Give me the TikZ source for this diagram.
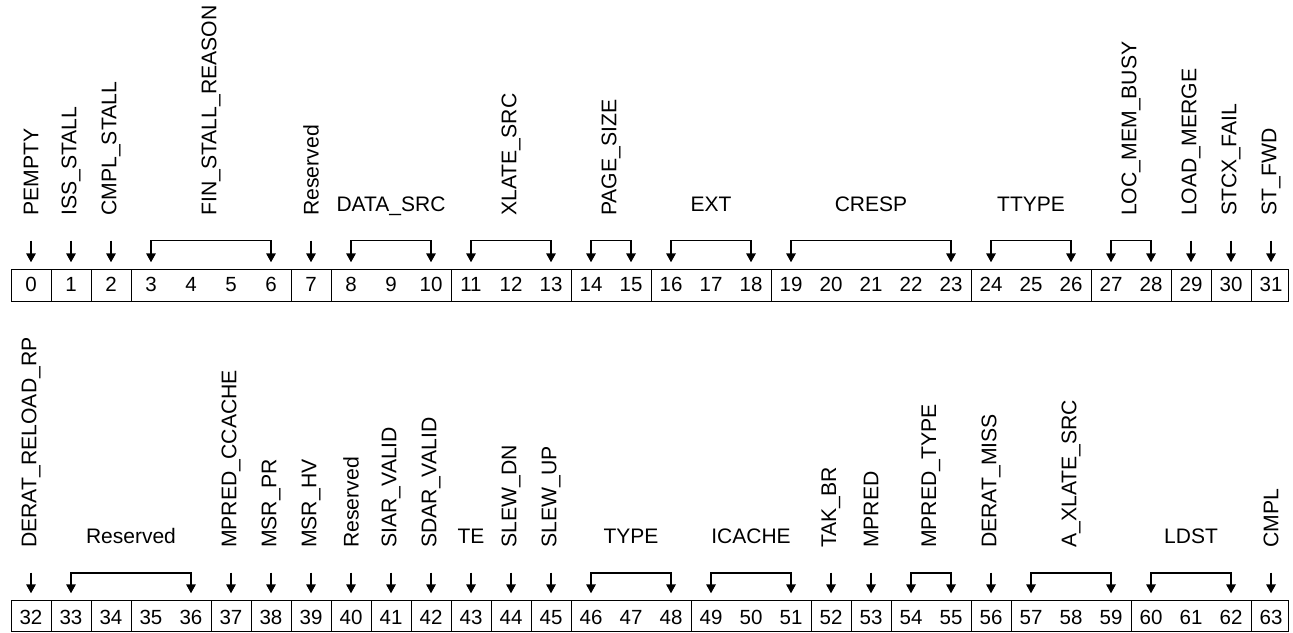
\documentclass[tikz,border=0pt]{standalone}
\usepackage{fontspec}
\setmainfont{Liberation Sans}
\usetikzlibrary{arrows.meta}
\begin{document}
\begin{tikzpicture}[x=1pt,y=1pt,
  num/.style={font=\fontsize{20.5}{24}\selectfont, anchor=base, inner sep=0pt},
  rlab/.style={font=\fontsize{21.2}{24}\selectfont, rotate=90, anchor=west, inner sep=0pt},
  hlab/.style={font=\fontsize{21}{24}\selectfont, anchor=base, inner sep=0pt},
  arr/.style={line width=1.7pt, -{Triangle[width=9.5pt,length=9pt]}},
  brk/.style={line width=1.7pt, {Triangle[width=9.5pt,length=9pt]}-{Triangle[width=9.5pt,length=9pt]}},
  cell/.style={line width=0.9pt}]
\useasboundingbox (0,0) rectangle (1293,-632);
% ---------- top row ----------
\foreach \i in {0,...,31} {
  \pgfmathsetmacro\xx{31+40*\i}
  \node[num] (n\i) at (\xx,-291.7) {\i};
  \coordinate (a\i) at (\xx,-240.5);
  \coordinate (b\i) at (\xx,-262.3);
}
\draw[cell] (11,-269.3) rectangle (1288.5,-301);
\foreach \k in {1,2,3,7,8,11,14,16,19,24,27,29,30,31}
  \draw[cell] ({11+40*\k},-269.3) -- ({11+40*\k},-301);
\foreach \i in {0,1,2,7,29,30,31} \draw[arr] (a\i) -- (b\i);
\foreach \p/\q in {3/6,8/10,11/13,14/15,16/18,19/23,24/26,27/28}
  \draw[brk] (b\p) -- (a\p) -- (a\q) -- (b\q);
\node[rlab] (l0) at (31,-216) {PEMPTY};
\node[rlab] (l1) at (71,-216) {ISS\_STALL};
\node[rlab] (l2) at (111,-216) {CMPL\_STALL};
\node[rlab] (l3) at (211,-216) {FIN\_STALL\_REASON};
\node[rlab] (l7) at (311,-216) {Reserved};
\node[hlab] (l8) at (391,-211) {DATA\_SRC};
\node[rlab] (l11) at (511,-216) {XLATE\_SRC};
\node[rlab] (l14) at (611,-216) {PAGE\_SIZE};
\node[hlab] (l16) at (711,-211) {EXT};
\node[hlab] (l19) at (871,-211) {CRESP};
\node[hlab] (l24) at (1031,-211) {TTYPE};
\node[rlab] (l27) at (1131,-216) {LOC\_MEM\_BUSY};
\node[rlab] (l29) at (1191,-216) {LOAD\_MERGE};
\node[rlab] (l30) at (1231,-216) {STCX\_FAIL};
\node[rlab] (l31) at (1271,-216) {ST\_FWD};
% ---------- bottom row ----------
\foreach \i in {32,...,63} {
  \pgfmathsetmacro\xx{31+40*(\i-32)}
  \node[num] (n\i) at (\xx,-624) {\i};
  \coordinate (a\i) at (\xx,-572.7);
  \coordinate (b\i) at (\xx,-593.3);
}
\draw[cell] (11,-600.7) rectangle (1288.5,-631.5);
\foreach \k in {1,2,3,5,6,7,8,9,10,11,12,13,14,17,20,21,22,24,25,28,31}
  \draw[cell] ({11+40*\k},-600.7) -- ({11+40*\k},-631.5);
\foreach \i in {32,37,38,39,40,41,42,43,44,45,52,53,56,63} \draw[arr] (a\i) -- (b\i);
\foreach \p/\q in {33/36,46/48,49/51,54/55,57/59,60/62}
  \draw[brk] (b\p) -- (a\p) -- (a\q) -- (b\q);
\node[rlab] (l32) at (31,-548) {DERAT\_RELOAD\_RP};
\node[hlab] (l33) at (131,-543) {Reserved};
\node[rlab] (l37) at (231,-548) {MPRED\_CCACHE};
\node[rlab] (l38) at (271,-548) {MSR\_PR};
\node[rlab] (l39) at (311,-548) {MSR\_HV};
\node[rlab] (l40) at (351,-548) {Reserved};
\node[rlab] (l41) at (391,-548) {SIAR\_VALID};
\node[rlab] (l42) at (431,-548) {SDAR\_VALID};
\node[hlab] (l43) at (471,-543) {TE};
\node[rlab] (l44) at (511,-548) {SLEW\_DN};
\node[rlab] (l45) at (551,-548) {SLEW\_UP};
\node[hlab] (l46) at (631,-543) {TYPE};
\node[hlab] (l49) at (751,-543) {ICACHE};
\node[rlab] (l52) at (831,-548) {TAK\_BR};
\node[rlab] (l53) at (871,-548) {MPRED};
\node[rlab] (l54) at (931,-548) {MPRED\_TYPE};
\node[rlab] (l56) at (991,-548) {DERAT\_MISS};
\node[rlab] (l57) at (1071,-548) {A\_XLATE\_SRC};
\node[hlab] (l60) at (1191,-543) {LDST};
\node[rlab] (l63) at (1271,-548) {CMPL};
\end{tikzpicture}
\end{document}
